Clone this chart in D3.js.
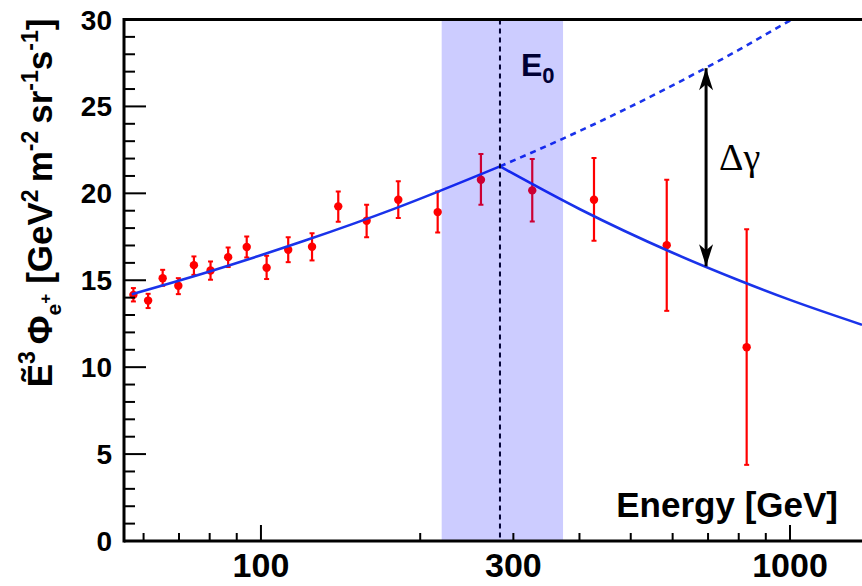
<!DOCTYPE html>
<html>
<head>
<meta charset="utf-8">
<script src="https://cdn.jsdelivr.net/npm/d3@7"></script>
<style>
  body { margin: 0; background: #fff; }
  svg { display: block; }
  text { font-family: "Liberation Sans", Arial, Helvetica, sans-serif; font-weight: bold; }
</style>
</head>
<body>
<div id="chart-area"></div>
<script>
// positron flux data points (energy in GeV, flux, lower and upper error)
var energy = [57.4, 61.2, 65.2, 69.8, 74.7, 80.3, 86.7, 94.0, 102.5, 112.6,
              124.9, 140.0, 158.4, 181.8, 215.8, 260.5, 325.7, 426.1, 584.8, 828.1]
var flux   = [14.16, 13.83, 15.12, 14.68, 15.87, 15.56, 16.33, 16.91, 15.72, 16.75,
              16.93, 19.25, 18.42, 19.63, 18.92, 20.78, 20.17, 19.63, 17.02, 11.15]
var errLo  = [13.78, 13.40, 14.68, 14.20, 15.31, 15.03, 15.76, 16.31, 15.07, 16.04,
              16.14, 18.36, 17.48, 18.58, 17.75, 19.34, 18.38, 17.27, 13.24, 4.38]
var errHi  = [14.55, 14.22, 15.60, 15.12, 16.37, 16.08, 16.89, 17.52, 16.41, 17.48,
              17.71, 20.11, 19.34, 20.69, 20.11, 22.26, 21.97, 22.03, 20.78, 17.94]

// fitted broken power law
var fitLowE  = [57, 80, 120, 180, 283]
var fitLowV  = [14.20, 15.51, 17.24, 19.15, 21.55]
var fitHighE = [283, 400, 600, 800, 1000, 1368]
var fitHighV = [21.55, 19.10, 16.58, 15.00, 13.87, 12.44]
var fitExtE  = [283, 400, 600, 800, 1000, 1020]
var fitExtV  = [21.55, 23.58, 26.21, 28.25, 29.94, 30.09]

// break energy and its band
var breakE = 283
var bandE = [219.6, 372.4]
var arrowE = 694
var arrowV = [27.2, 15.8]

var xMajor = [100, 300, 1000]
var xLabels = ["100", "300", "1000"]
var xMinor = [60, 70, 80, 90, 200, 400, 500, 600, 700, 800, 900]
var yMajor = [0, 5, 10, 15, 20, 25, 30]

var width = 862, height = 586

var svg = d3.select("#chart-area").append("svg")
    .attr("width", width)
    .attr("height", height)

var x = d3.scaleLog().domain([55.1, 1368]).range([124, 862])
var y = d3.scaleLinear().domain([0, 30]).range([541, 19.5])

svg.append("defs").append("clipPath").attr("id", "plot")
  .append("rect")
    .attr("x", x.range()[0]).attr("y", y(30))
    .attr("width", x.range()[1] - x.range()[0])
    .attr("height", y(0) - y(30))

var pts = energy.map(function(e, i) {
  return {e: e, v: flux[i], lo: errLo[i], hi: errHi[i]}
})

// error bars
var g = svg.append("g").attr("clip-path", "url(#plot)")
g.selectAll(".err").data(pts).enter().append("line")
    .attr("x1", d => x(d.e)).attr("x2", d => x(d.e))
    .attr("y1", d => y(d.lo)).attr("y2", d => y(d.hi))
    .attr("stroke", "#ff0000").attr("stroke-width", 2.2)
g.selectAll(".capHi").data(pts).enter().append("line")
    .attr("x1", d => x(d.e) - 2.5).attr("x2", d => x(d.e) + 2.5)
    .attr("y1", d => y(d.hi)).attr("y2", d => y(d.hi))
    .attr("stroke", "#ff0000").attr("stroke-width", 2)
g.selectAll(".capLo").data(pts).enter().append("line")
    .attr("x1", d => x(d.e) - 2.5).attr("x2", d => x(d.e) + 2.5)
    .attr("y1", d => y(d.lo)).attr("y2", d => y(d.lo))
    .attr("stroke", "#ff0000").attr("stroke-width", 2)
g.selectAll("circle").data(pts).enter().append("circle")
    .attr("cx", d => x(d.e)).attr("cy", d => y(d.v))
    .attr("r", 4.2).attr("fill", "#ff0000")

// fit lines
var line = d3.line()
    .x(d => x(d[0])).y(d => y(d[1]))
    .curve(d3.curveMonotoneX)

g.append("path").datum(d3.zip(fitLowE, fitLowV))
    .attr("d", line).attr("fill", "none")
    .attr("stroke", "#1a33ea").attr("stroke-width", 2.6)
g.append("path").datum(d3.zip(fitHighE, fitHighV))
    .attr("d", line).attr("fill", "none")
    .attr("stroke", "#1a33ea").attr("stroke-width", 2.6)
g.append("path").datum(d3.zip(fitExtE, fitExtV))
    .attr("d", line).attr("fill", "none")
    .attr("stroke", "#1a33ea").attr("stroke-width", 2.6)
    .attr("stroke-dasharray", "6,5")

// break energy line
svg.append("line")
    .attr("x1", x(breakE)).attr("x2", x(breakE))
    .attr("y1", y(30)).attr("y2", y(0))
    .attr("stroke", "#000").attr("stroke-width", 2)
    .attr("stroke-dasharray", "5,4")

var e0 = svg.append("text")
    .attr("x", x(breakE) + 21).attr("y", 76)
    .attr("font-size", 32).attr("fill", "#000")
e0.append("tspan").text("E")
e0.append("tspan").attr("font-size", 22).attr("dy", 7).text("0")

// band on top, translucent
svg.append("rect")
    .attr("x", x(bandE[0])).attr("y", y(30))
    .attr("width", x(bandE[1]) - x(bandE[0]))
    .attr("height", y(0) - y(30))
    .attr("fill", "#0000ff").attr("fill-opacity", 0.2)

// delta gamma arrow
var mk = svg.select("defs").append("marker")
    .attr("id", "head").attr("markerUnits", "userSpaceOnUse")
    .attr("viewBox", "-24 -8 26 16")
    .attr("refX", 0).attr("refY", 0)
    .attr("markerWidth", 26).attr("markerHeight", 16)
    .attr("orient", "auto-start-reverse")
mk.append("path").attr("d", "M0,0 L-22,-7 L-16,0 L-22,7 Z").attr("fill", "#000")

svg.append("line")
    .attr("x1", x(arrowE)).attr("x2", x(arrowE))
    .attr("y1", y(arrowV[0])).attr("y2", y(arrowV[1]))
    .attr("stroke", "#000").attr("stroke-width", 3)
    .attr("marker-start", "url(#head)").attr("marker-end", "url(#head)")

svg.append("text")
    .attr("x", x(arrowE) + 13).attr("y", 170)
    .style("font-family", "'Liberation Serif', 'Times New Roman', serif")
    .style("font-weight", "normal")
    .attr("font-size", 38)
    .text("\u0394\u03b3")

// axes frame
svg.append("line")
    .attr("x1", x.range()[0]).attr("x2", width)
    .attr("y1", y(0)).attr("y2", y(0))
    .attr("stroke", "#000").attr("stroke-width", 3)
svg.append("line")
    .attr("x1", x.range()[0]).attr("x2", width)
    .attr("y1", y(30)).attr("y2", y(30))
    .attr("stroke", "#000").attr("stroke-width", 3)
svg.append("line")
    .attr("x1", x.range()[0]).attr("x2", x.range()[0])
    .attr("y1", y(0) + 1.5).attr("y2", y(30) - 1.5)
    .attr("stroke", "#000").attr("stroke-width", 3)

// y ticks, pointing inwards
var yMinor = d3.range(1, 30).filter(v => v % 5 != 0)
svg.selectAll(".ytickMaj").data(yMajor).enter().append("line")
    .attr("x1", x.range()[0]).attr("x2", x.range()[0] + 22)
    .attr("y1", d => y(d)).attr("y2", d => y(d))
    .attr("stroke", "#000").attr("stroke-width", 2)
svg.selectAll(".ytickMin").data(yMinor).enter().append("line")
    .attr("x1", x.range()[0]).attr("x2", x.range()[0] + 11)
    .attr("y1", d => y(d)).attr("y2", d => y(d))
    .attr("stroke", "#000").attr("stroke-width", 2)
svg.selectAll(".ylab").data(yMajor).enter().append("text")
    .attr("x", 112).attr("y", d => y(d) + 10)
    .attr("text-anchor", "end").attr("font-size", 28)
    .text(d => d)

// x ticks
svg.selectAll(".xtickMaj").data([100, 1000]).enter().append("line")
    .attr("x1", d => x(d)).attr("x2", d => x(d))
    .attr("y1", y(0)).attr("y2", y(0) - 16)
    .attr("stroke", "#000").attr("stroke-width", 2)
svg.selectAll(".xtickMin").data(xMinor.concat([300])).enter().append("line")
    .attr("x1", d => x(d)).attr("x2", d => x(d))
    .attr("y1", y(0)).attr("y2", y(0) - 8)
    .attr("stroke", "#000").attr("stroke-width", 2)
svg.selectAll(".xlab").data(xMajor).enter().append("text")
    .attr("x", (d) => x(d)).attr("y", 577)
    .attr("text-anchor", "middle").attr("font-size", 34)
    .text((d, i) => xLabels[i])

svg.append("text")
    .attr("x", 838).attr("y", 517)
    .attr("text-anchor", "end").attr("font-size", 35)
    .text("Energy [GeV]")

// y axis title with sub and superscripts
var parts = [
  {t: "\u1EBC", s: 35, b: 0},
  {t: "3", s: 23, b: -17},
  {t: "\u03A6", s: 35, b: 0, dx: 7},
  {t: "e", s: 21, b: 9},
  {t: "+", s: 17, b: -1},
  {t: "[GeV", s: 35, b: 0, dx: 10},
  {t: "2", s: 23, b: -14},
  {t: "m", s: 35, b: 0, dx: 7},
  {t: "-2", s: 23, b: -14},
  {t: "sr", s: 35, b: 0, dx: 7},
  {t: "-1", s: 23, b: -14},
  {t: "s", s: 35, b: 0},
  {t: "-1", s: 23, b: -14},
  {t: "]", s: 35, b: 0}
]
var ylab = svg.append("text")
    .attr("transform", "translate(52,203) rotate(-90)")
    .attr("text-anchor", "middle")
var prev = 0
parts.forEach(function(p) {
  ylab.append("tspan")
      .attr("font-size", p.s)
      .attr("dy", p.b - prev)
      .attr("dx", p.dx || 0)
      .text(p.t)
  prev = p.b
})
</script>
</body>
</html>
